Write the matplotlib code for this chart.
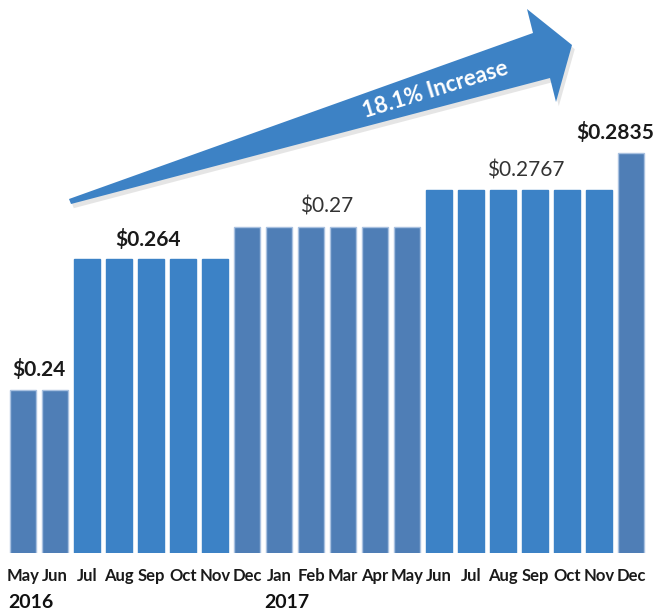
import matplotlib
matplotlib.use('Agg')
import matplotlib.pyplot as plt
from matplotlib.patches import Polygon
import matplotlib.patheffects as pe

# datos
months = ['May', 'Jun', 'Jul', 'Aug', 'Sep', 'Oct', 'Nov', 'Dec',
          'Jan', 'Feb', 'Mar', 'Apr', 'May', 'Jun', 'Jul', 'Aug', 'Sep', 'Oct', 'Nov', 'Dec']
prices = [0.24, 0.24, 0.264, 0.264, 0.264, 0.264, 0.264,
          0.27, 0.27, 0.27, 0.27, 0.27, 0.27,
          0.2767, 0.2767, 0.2767, 0.2767, 0.2767, 0.2767, 0.2835]
shade = ['g', 'g', 'b', 'b', 'b', 'b', 'b', 'g', 'g', 'g', 'g', 'g', 'g',
         'b', 'b', 'b', 'b', 'b', 'b', 'g']
# etiquetas de valor: (posicion x, valor, texto, negrita)
label_pos = [0.5, 3.9, 9.5, 15.7, 18.5]
label_val = [0.24, 0.264, 0.27, 0.2767, 0.2835]
label_txt = ['$0.24', '$0.264', '$0.27', '$0.2767', '$0.2835']
label_bold = [True, True, False, False, True]
years = ['2016', '2017']
year_idx = [0, 8]

W, H = 657, 612
fig = plt.figure(figsize=(W / 100, H / 100), dpi=100)
ax = fig.add_axes([0, 59 / H, 1, 1 - 59 / H])

colors = {'g': '#4F7EB6', 'b': '#3C82C6'}
edges = {'g': '#A9C1E0', 'b': '#3C82C6'}
x = list(range(len(months)))
ax.bar(x, prices, width=0.8, bottom=0,
       color=[colors[s] for s in shade],
       edgecolor=[edges[s] for s in shade], linewidth=1)

ax.set_xlim(-0.72, 19.81)
ax.set_ylim(0.2101, 0.2101 + 1 / 5450 * 553)
for s in ax.spines.values():
    s.set_visible(False)
ax.set_yticks([])
ax.set_xticks(x)
ax.set_xticklabels(months, fontfamily='Lato', fontweight='bold', fontsize=12, color='#1a1a1a')
ax.tick_params(axis='x', length=0, pad=11)

for xp, v, t, b in zip(label_pos, label_val, label_txt, label_bold):
    ax.annotate(t, (xp, v), xytext=(0, 7), textcoords='offset points',
                ha='center', va='bottom', fontfamily='Lato', fontsize=15,
                fontweight='bold' if b else 'normal',
                color='#1a1a1a' if b else '#333333')

# años debajo de los meses
for yr, i in zip(years, year_idx):
    ax.annotate(yr, (i - 0.45, 0), xytext=(0, -36), textcoords='offset points',
                xycoords=('data', 'axes fraction'),
                ha='left', va='center', fontfamily='Lato', fontsize=14,
                fontweight='bold', color='#111111')

# flecha de incremento
pts = [(69, 199), (533, 33), (527, 9), (572, 45), (556, 102), (550, 78), (71, 204)]
arrow = Polygon([(px / W, 1 - py / H) for px, py in pts], closed=True,
                transform=fig.transFigure, facecolor='#3D82C5', edgecolor='none',
                path_effects=[pe.SimplePatchShadow(offset=(2, -3), shadow_rgbFace='#999999', alpha=0.25),
                              pe.Normal()])
fig.patches.append(arrow)
fig.text(435 / W, 1 - 90 / H, '18.1% Increase', rotation=17, rotation_mode='anchor',
         ha='center', va='center', color='white', fontfamily='Lato',
         fontweight='bold', fontsize=16)

fig.savefig('out.png', dpi=100)
